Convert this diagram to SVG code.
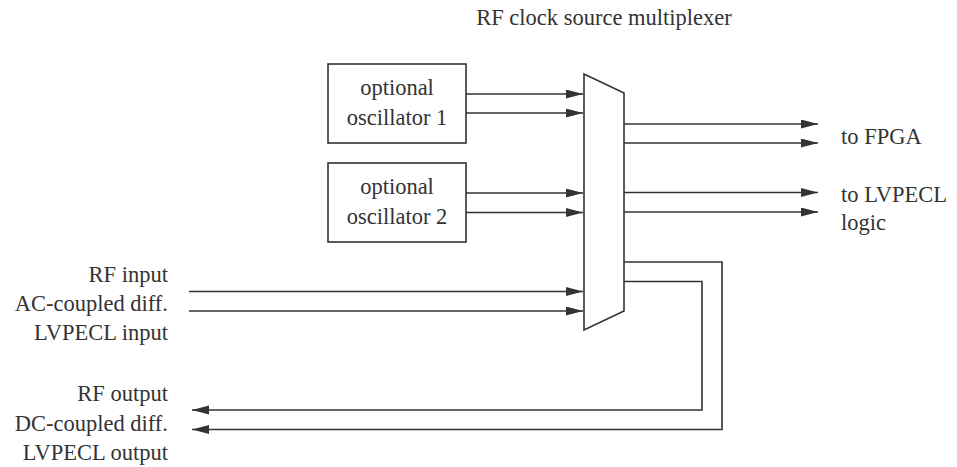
<svg xmlns="http://www.w3.org/2000/svg" width="957" height="467" viewBox="0 0 957 467">
  <style>
    text { font-family: "Liberation Serif", "Times New Roman", serif; font-size: 22.5px; fill: #333; }
    .box { fill: #fff; stroke: #333; stroke-width: 1.6; }
    .wire { fill: none; stroke: #333; stroke-width: 1.6; }
  </style>
  <defs>
    <marker id="ah" markerUnits="userSpaceOnUse" markerWidth="17" markerHeight="10" refX="17" refY="4.5" orient="auto">
      <path d="M0,0 L17,4.5 L0,9 z" fill="#333"/>
    </marker>
  </defs>
  <rect width="957" height="467" fill="#fff"/>

  <text id="title" x="604" y="25" text-anchor="middle">RF clock source multiplexer</text>

  <g id="osc1">
    <rect class="box" x="328" y="64" width="138" height="79"/>
    <text x="397" y="95" text-anchor="middle">optional</text>
    <text x="397" y="125" text-anchor="middle">oscillator 1</text>
  </g>
  <g id="osc2">
    <rect class="box" x="328" y="163" width="138" height="79"/>
    <text x="397" y="194" text-anchor="middle">optional</text>
    <text x="397" y="224" text-anchor="middle">oscillator 2</text>
  </g>
  <g id="mux">
    <polygon class="box" points="584,74 624,93 624,311 584,330"/>
  </g>
  <g id="rf-in-label">
    <text x="168" y="281.5" text-anchor="end">RF input</text>
    <text x="168" y="310.5" text-anchor="end">AC-coupled diff.</text>
    <text x="168" y="340" text-anchor="end">LVPECL input</text>
  </g>
  <g id="rf-out-label">
    <text x="168" y="400.5" text-anchor="end">RF output</text>
    <text x="168" y="430.5" text-anchor="end">DC-coupled diff.</text>
    <text x="168" y="459.5" text-anchor="end">LVPECL output</text>
  </g>
  <g id="fpga-label">
    <text x="841" y="143.5">to FPGA</text>
  </g>
  <g id="lvpecl-label">
    <text x="841" y="202">to LVPECL</text>
    <text x="841" y="230">logic</text>
  </g>

  <g id="connectors">
    <line class="wire" x1="466" y1="94" x2="583" y2="94" marker-end="url(#ah)"/>
    <line class="wire" x1="466" y1="113" x2="583" y2="113" marker-end="url(#ah)"/>
    <line class="wire" x1="466" y1="193" x2="583" y2="193" marker-end="url(#ah)"/>
    <line class="wire" x1="466" y1="212.5" x2="583" y2="212.5" marker-end="url(#ah)"/>
    <line class="wire" x1="189" y1="291.5" x2="583" y2="291.5" marker-end="url(#ah)"/>
    <line class="wire" x1="189" y1="311" x2="583" y2="311" marker-end="url(#ah)"/>
    <line class="wire" x1="624" y1="124" x2="818" y2="124" marker-end="url(#ah)"/>
    <line class="wire" x1="624" y1="143" x2="818" y2="143" marker-end="url(#ah)"/>
    <line class="wire" x1="624" y1="192.5" x2="818" y2="192.5" marker-end="url(#ah)"/>
    <line class="wire" x1="624" y1="212" x2="818" y2="212" marker-end="url(#ah)"/>
    <polyline class="wire" points="624,262 722,262 722,429.5 192,429.5" marker-end="url(#ah)"/>
    <polyline class="wire" points="624,281.5 702,281.5 702,410 192,410" marker-end="url(#ah)"/>
  </g>
</svg>
